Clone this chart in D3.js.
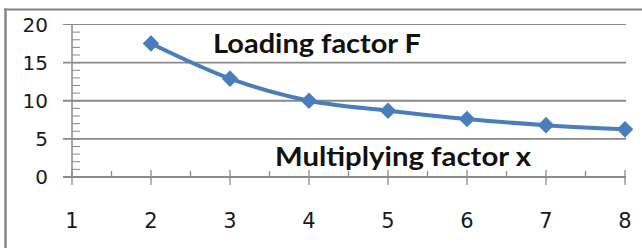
<!DOCTYPE html>
<html>
<head>
<meta charset="utf-8">
<script src="https://cdn.jsdelivr.net/npm/d3@7"></script>
<style>
  body { margin: 0; background: #fff; }
  svg { display: block; }
  text { font-family: "DejaVu Sans", "Liberation Sans", sans-serif; }
  .note { font-family: Lato, "Open Sans", sans-serif; }
</style>
</head>
<body>
<div id="chart"></div>
<script>
// 数据
const xValues = [2, 3, 4, 5, 6, 7, 8];
const loadingF = [17.5, 12.9, 10, 8.7, 7.6, 6.8, 6.25];
const xTicks = [1, 2, 3, 4, 5, 6, 7, 8];
const yTicks = [0, 5, 10, 15, 20];

const width = 642, height = 248;
const gridColor = '#8a8a8a';
const lineColor = '#4a7ebb';

const svg = d3.select('#chart').append('svg')
    .attr('width', width)
    .attr('height', height);

const x = d3.scaleLinear().domain([1, 8]).range([72, 625]);
const y = d3.scaleLinear().domain([0, 20]).range([177, 24.5]);

// 外框 (上边和左边)
svg.append('line').attr('x1', 4).attr('x2', width).attr('y1', 9.5).attr('y2', 9.5)
    .attr('stroke', '#858585').attr('stroke-width', 2.2);
svg.append('line').attr('x1', 5.5).attr('x2', 5.5).attr('y1', 8.5).attr('y2', height)
    .attr('stroke', '#858585').attr('stroke-width', 2.5);

// 网格线
svg.append('g').selectAll('line')
    .data(yTicks)
    .enter()
    .append('line')
    .attr('x1', 63)
    .attr('x2', x(8) + 1)
    .attr('y1', d => y(d))
    .attr('y2', d => y(d))
    .attr('stroke', gridColor)
    .attr('stroke-width', d => d === 20 ? 1.2 : 1.8);

// y 轴线和次刻度
svg.append('line').attr('x1', x(1)).attr('x2', x(1)).attr('y1', y(20)).attr('y2', y(0))
    .attr('stroke', gridColor).attr('stroke-width', 1.5);
svg.append('g').selectAll('line')
    .data(d3.range(0, 21))
    .enter()
    .append('line')
    .attr('x1', x(1))
    .attr('x2', x(1) + 8)
    .attr('y1', d => y(d))
    .attr('y2', d => y(d))
    .attr('stroke', gridColor)
    .attr('stroke-width', 1);

// x 轴刻度
svg.append('g').selectAll('line')
    .data(xTicks)
    .enter()
    .append('line')
    .attr('x1', d => x(d))
    .attr('x2', d => x(d))
    .attr('y1', y(0) - 7)
    .attr('y2', y(0) + 8)
    .attr('stroke', gridColor)
    .attr('stroke-width', 1.3);
svg.append('g').selectAll('line')
    .data(xTicks.slice(0, -1).map(d => d + 0.5))
    .enter()
    .append('line')
    .attr('x1', d => x(d))
    .attr('x2', d => x(d))
    .attr('y1', y(0) - 6)
    .attr('y2', y(0))
    .attr('stroke', gridColor)
    .attr('stroke-width', 1.3);

// 刻度标签
svg.append('g').selectAll('text')
    .data(yTicks)
    .enter()
    .append('text')
    .attr('x', 48)
    .attr('y', d => y(d))
    .attr('dy', '0.36em')
    .attr('text-anchor', 'end')
    .attr('font-size', 20)
    .attr('fill', '#1a1a1a')
    .text(d => d);

svg.append('g').selectAll('text')
    .data(xTicks)
    .enter()
    .append('text')
    .attr('x', d => x(d))
    .attr('y', 228)
    .attr('text-anchor', 'middle')
    .attr('font-size', 21)
    .attr('fill', '#1a1a1a')
    .text(d => d);

// 曲线
const line = d3.line()
    .x((d, i) => x(xValues[i]))
    .y(d => y(d))
    .curve(d3.curveMonotoneX);

svg.append('path')
    .datum(loadingF)
    .attr('d', line)
    .attr('fill', 'none')
    .attr('stroke', lineColor)
    .attr('stroke-width', 4);

svg.append('g').selectAll('path')
    .data(loadingF)
    .enter()
    .append('path')
    .attr('d', d3.symbol().type(d3.symbolDiamond2).size(175))
    .attr('transform', (d, i) => `translate(${x(xValues[i])},${y(d)})`)
    .attr('fill', lineColor);

// 文字标注
svg.append('text')
    .attr('class', 'note')
    .attr('x', 213)
    .attr('y', 53)
    .attr('font-size', 26)
    .attr('font-weight', 'bold')
    .attr('textLength', 208)
    .attr('lengthAdjust', 'spacingAndGlyphs')
    .attr('fill', '#111')
    .text('Loading factor F');

svg.append('text')
    .attr('class', 'note')
    .attr('x', 275)
    .attr('y', 166)
    .attr('font-size', 26)
    .attr('font-weight', 'bold')
    .attr('textLength', 256)
    .attr('lengthAdjust', 'spacingAndGlyphs')
    .attr('fill', '#111')
    .text('Multiplying factor x');
</script>
</body>
</html>
